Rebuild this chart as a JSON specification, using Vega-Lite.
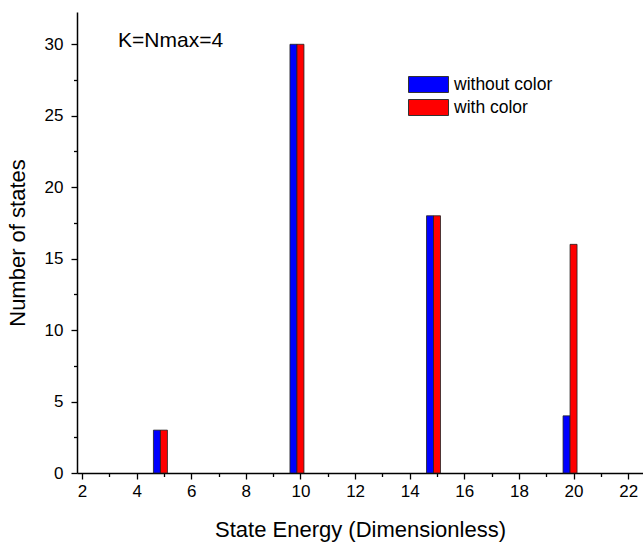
{
  "$schema": "https://vega.github.io/schema/vega-lite/v6.json",
  "width": 566,
  "height": 461,
  "autosize": "none",
  "padding": {"left": 77, "top": 12, "right": 0, "bottom": 69},
  "background": "white",
  "config": {
    "font": "Liberation Sans",
    "view": {"stroke": null},
    "axis": {
      "grid": false,
      "domainColor": "black",
      "domainWidth": 1.5,
      "tickColor": "black",
      "tickWidth": 1.3,
      "labelColor": "black",
      "titleColor": "black",
      "labelFont": "Liberation Sans",
      "titleFont": "Liberation Sans",
      "labelFontSize": 17,
      "titleFontSize": 22,
      "titleFontWeight": "normal"
    }
  },
  "data": {
    "values": [
      {"energy": 5, "series": "without color", "count": 3},
      {"energy": 10, "series": "without color", "count": 30},
      {"energy": 15, "series": "without color", "count": 18},
      {"energy": 20, "series": "without color", "count": 4},
      {"energy": 5, "series": "with color", "count": 3},
      {"energy": 10, "series": "with color", "count": 30},
      {"energy": 15, "series": "with color", "count": 18},
      {"energy": 20, "series": "with color", "count": 16}
    ]
  },
  "encoding": {
    "x": {
      "field": "energy",
      "type": "quantitative",
      "scale": {"domain": [2, 22.36], "nice": false, "zero": false},
      "axis": {
        "title": "State Energy (Dimensionless)",
        "values": [2,3,4,5,6,7,8,9,10,11,12,13,14,15,16,17,18,19,20,21,22],
        "labelExpr": "datum.value % 2 == 0 ? datum.label : ''",
        "tickSize": {"condition": {"test": "datum.value % 2 == 1", "value": 3.5}, "value": 6},
        "labelPadding": 4,
        "titlePadding": 20,
        "labelFlush": false
      }
    },
    "y": {
      "field": "count",
      "type": "quantitative",
      "scale": {"domain": [0, 32.26], "nice": false},
      "axis": {
        "title": "Number of states",
        "values": [0,2.5,5,7.5,10,12.5,15,17.5,20,22.5,25,27.5,30],
        "labelExpr": "datum.value % 5 == 0 ? datum.label : ''",
        "tickSize": {"condition": {"test": "datum.value % 5 != 0", "value": 3.5}, "value": 6},
        "labelPadding": 8,
        "titlePadding": 15,
        "labelFlush": false
      }
    },
    "color": {
      "field": "series",
      "type": "nominal",
      "scale": {"domain": ["without color", "with color"], "range": ["#0000ff", "#ff0000"]},
      "legend": {
        "title": null,
        "orient": "none",
        "legendX": 341,
        "legendY": 62,
        "symbolType": "M-2,-0.8H2V0.8H-2Z",
        "symbolSize": 400,
        "symbolStrokeColor": "#333333",
        "symbolStrokeWidth": 1,
        "symbolOpacity": 1,
        "labelFontSize": 17.5,
        "labelFont": "Liberation Sans",
        "labelColor": "black",
        "labelOffset": 15,
        "rowPadding": 2
      }
    }
  },
  "layer": [
    {
      "transform": [{"filter": "datum.series == 'without color'"}],
      "mark": {"type": "bar", "width": 7, "xOffset": -7, "stroke": "#222222", "strokeWidth": 0.8}
    },
    {
      "transform": [{"filter": "datum.series == 'with color'"}],
      "mark": {"type": "bar", "width": 7, "stroke": "#222222", "strokeWidth": 0.8}
    },
    {
      "data": {"values": [{"note": "K=Nmax=4", "nx": 3.32, "ny": 29.8}]},
      "mark": {"type": "text", "align": "left", "baseline": "alphabetic", "fontSize": 21, "font": "Liberation Sans", "color": "black"},
      "encoding": {
        "x": {"field": "nx", "type": "quantitative"},
        "y": {"field": "ny", "type": "quantitative"},
        "text": {"field": "note"},
        "color": {"value": "black"}
      }
    }
  ]
}
